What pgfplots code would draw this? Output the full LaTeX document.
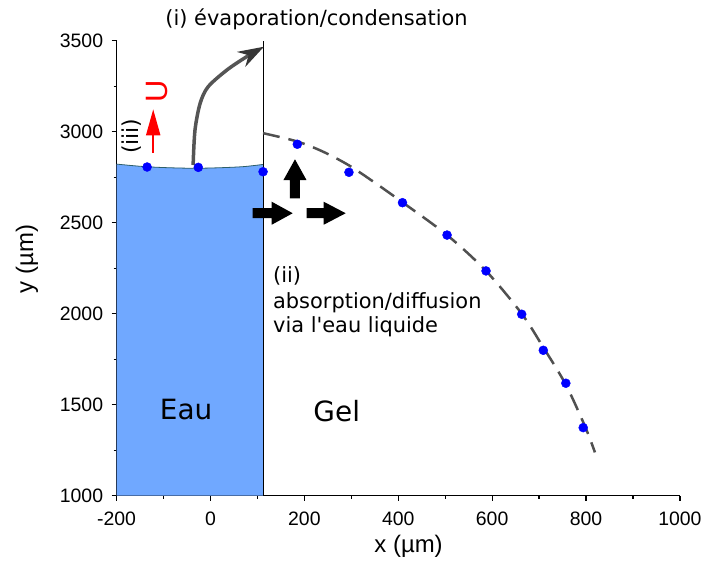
\documentclass[border=0pt]{standalone}
\usepackage{fontspec}
\setmainfont{Liberation Sans}
\newfontfamily\dejavu{DejaVu Sans}
\usepackage{pgfplots}
\pgfplotsset{compat=1.18}
\usetikzlibrary{arrows.meta}
\definecolor{water}{RGB}{112,168,255}
\definecolor{edge}{RGB}{45,95,105}
\definecolor{dgray}{RGB}{80,80,80}
\begin{document}
\begin{tikzpicture}
\begin{axis}[
  at={(0,0)}, anchor=south west,
  scale only axis, width=563.3bp, height=455bp,
  xmin=-200, xmax=1000, ymin=1000, ymax=3500,
  axis x line*=bottom, axis y line*=left,
  xtick={-200,0,200,400,600,800,1000},
  xticklabels={-200,0,200,400,600,800,1000},
  ytick={1000,1500,2000,2500,3000,3500},
  yticklabels={1000,1500,2000,2500,3000,3500},
  minor x tick num=1, minor y tick num=1,
  tick align=outside,
  major tick length=5bp, minor tick length=3bp,
  tick label style={font=\fontsize{19.5}{19.5}\selectfont, black},
  xticklabel style={yshift=-8bp},
  yticklabel style={xshift=-5bp},
  axis line style={line width=1.2bp, black},
  every tick/.style={line width=1.2bp, black},
  clip=false,
]
% water region
\addplot[fill=water, draw=none] coordinates {
  (-200,1000) (-200,2822) (-150,2810) (-100,2803) (-35,2799) (20,2802) (70,2808) (112,2820) (112,1000)} \closedcycle;
\addplot[draw=edge, line width=0.8bp, smooth] coordinates {
  (-200,2822) (-150,2810) (-100,2803) (-35,2799) (20,2802) (70,2808) (112,2820)};
\addplot[draw=black, line width=1bp] coordinates {(112,1000) (112,3500)};
% dashed profile
\addplot[dgray, line width=2.5bp, dash pattern=on 17bp off 9bp, smooth] coordinates {
  (112,2992) (185,2946) (240,2890) (295,2815) (350,2720) (409,2612) (504,2432)
  (587,2235) (663,2000) (709,1815) (757,1610) (798,1380) (819,1238)};
% measured points
\addplot[only marks, mark=*, mark size=4.5bp, blue, mark options={draw=blue, fill=blue}] coordinates {
  (-135,2806) (-26,2804) (112,2780) (185,2931) (295,2777) (409,2610)
  (504,2432) (587,2235) (663,1997) (709,1799) (757,1618) (794,1374)};
% curved evaporation arrow
\addplot[color={rgb,255:red,85;green,85;blue,85}, line width=3.5bp, smooth,
  -{Stealth[length=26bp,width=17bp,color={rgb,255:red,55;green,55;blue,55}]}] coordinates {
  (-37,2817) (-33,3009) (-22,3156) (-5,3247) (35,3339) (77,3412) (114,3467)};
% red arrow and U
\draw[red, line width=2bp, -{Triangle[length=26bp,width=14bp]}] (axis cs:-122,2885) -- (axis cs:-122,3123);
\node[red, rotate=90, font=\fontsize{31}{31}\selectfont, inner sep=0] at (axis cs:-114,3220) {U};
\node[rotate=90, font=\dejavu\fontsize{22}{22}\selectfont, inner sep=0] at (axis cs:-168,2975) {(iii)};
\coordinate (ra1) at (axis cs:90,2552);
\coordinate (ra2) at (axis cs:205,2552);
\coordinate (ua) at (axis cs:180,2634);
% texts
\node[anchor=base, font=\dejavu\fontsize{21}{21}\selectfont, inner sep=0] at (axis cs:226,3586) {(i) évaporation/condensation};
\node[anchor=base west, font=\dejavu\fontsize{21}{21}\selectfont, inner sep=0] at (axis cs:133,2169) {(ii)};
\node[anchor=base west, font=\dejavu\fontsize{21}{21}\selectfont, inner sep=0] at (axis cs:133,2030) {absorption/diffusion};
\node[anchor=base west, font=\dejavu\fontsize{21}{21}\selectfont, inner sep=0] at (axis cs:133,1896) {via l'eau liquide};
\node[anchor=base, font=\dejavu\fontsize{28}{28}\selectfont, inner sep=0] at (axis cs:-52,1416) {Eau};
\node[anchor=base, font=\dejavu\fontsize{28}{28}\selectfont, inner sep=0] at (axis cs:269,1410) {Gel};
\node[anchor=base, font=\fontsize{24}{24}\selectfont, inner sep=0] at (axis cs:422,688) {x (µm)};
\node[anchor=base, rotate=90, font=\fontsize{24}{24}\selectfont, inner sep=0] at (axis cs:-378,2300) {y (µm)};
\end{axis}
% block arrows
\fill[black] (ra1) ++(0bp,5bp) -- ++(19bp,0bp) -- ++(0bp,6.5bp) -- ++(21bp,-11.5bp) -- ++(-21bp,-11.5bp) -- ++(0bp,6.5bp) -- ++(-19bp,0bp) -- cycle;
\fill[black] (ra2) ++(0bp,5bp) -- ++(17bp,0bp) -- ++(0bp,6.5bp) -- ++(22bp,-11.5bp) -- ++(-22bp,-11.5bp) -- ++(0bp,6.5bp) -- ++(-17bp,0bp) -- cycle;
\fill[black] (ua) ++(-5bp,0bp) -- ++(0bp,18.3bp) -- ++(-6.5bp,0bp) -- ++(11.5bp,20.7bp) -- ++(11.5bp,-20.7bp) -- ++(-6.5bp,0bp) -- ++(0bp,-18.3bp) -- cycle;
\pgfresetboundingbox
\path[use as bounding box] (-116.6bp,-72.3bp) rectangle (587.4bp,495.7bp);
\end{tikzpicture}
\end{document}
